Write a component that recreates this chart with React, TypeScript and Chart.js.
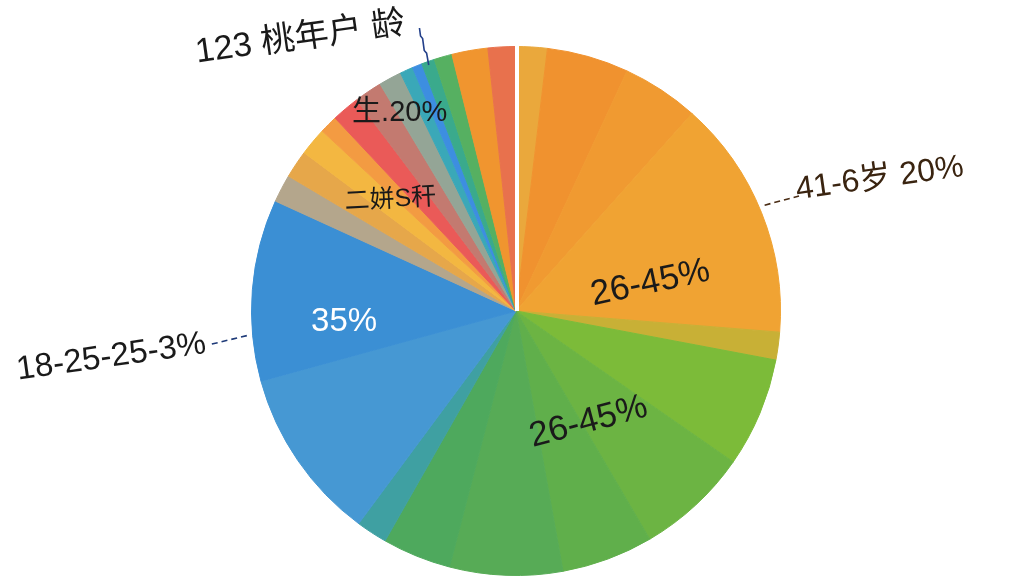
import React, { useEffect, useRef } from "react";
import { Chart, registerables } from "chart.js";

Chart.register(...registerables);

// Slice shares, clockwise from 12 o'clock
const sliceNames = [
  "a1", "a2", "a3", "a4", "a5",
  "b1", "b2", "b3", "b4", "b5", "b6",
  "c1", "c2",
  "d1", "d2", "d3", "d4", "d5", "d6", "d7", "d8", "d9", "d10", "d11",
  "e1", "e2",
];
const sliceShares = [
  1.9, 5.0, 4.7, 14.7, 1.7,
  6.7, 6.9, 5.6, 6.9, 4.2, 1.9,
  10.6, 11.1,
  1.7, 1.7, 1.7, 1.1, 1.7, 1.7, 1.4, 0.8, 0.6, 0.8, 1.1,
  2.2, 1.7,
];
const sliceColors = [
  "#eaa83c", "#f0922f", "#f09a31", "#f0a333", "#c8b036",
  "#7cbb39", "#6cb443", "#60af4b", "#57ab56", "#4ea95d", "#3fa0a2",
  "#4698d3", "#3b8fd4",
  "#b4a68c", "#e6a74a", "#f3b741", "#f39b42", "#ea5a58", "#c37a70", "#94a596", "#3aa8b8", "#3d8ee0", "#3aaa8c", "#56b061",
  "#f0952f", "#e8714d",
];

// Label texts
const labelTexts = [
  "26-45%",
  "26-45%",
  "35%",
  "生.20%",
  "二姘S秆",
  "123 桃年户 龄",
  "41-6岁 20%",
  "18-25-25-3%",
];

// Label placement (fractions of the pie radius from its centre), styles
const labelStyles = [
  { fx: 0.508, fy: -0.105, rot: -12, size: 35, color: "#1a1a1a" },
  { fx: 0.274, fy: 0.42, rot: -15, size: 35, color: "#1a1a1a" },
  { fx: -0.65, fy: 0.04, rot: 0, size: 33, color: "#ffffff" },
  { fx: -0.44, fy: -0.75, rot: 0, size: 29, color: "#1a1a1a" },
  { fx: -0.475, fy: -0.42, rot: -3, size: 25, color: "#1a1a1a" },
  { fx: -0.815, fy: -1.03, rot: -8, size: 34, color: "#1a1a1a" },
  { fx: 1.375, fy: -0.5, rot: -8, size: 32, color: "#3a2410" },
  { fx: -1.53, fy: 0.175, rot: -8, size: 33, color: "#1a1a1a" },
];

const leaderLines = [
  {
    pts: [[-0.33, -0.93], [-0.338, -0.975], [-0.347, -0.985], [-0.353, -1.03], [-0.361, -1.04], [-0.365, -1.07]],
    color: "#23408a",
    dash: [] as number[],
  },
  { pts: [[0.94, -0.4], [1.07, -0.435]], color: "#4a2c14", dash: [6, 4] },
  { pts: [[-1.15, 0.125], [-1.005, 0.09]], color: "#1e3a78", dash: [6, 4] },
];

const labelPlugin = {
  id: "pieLabels",
  afterDatasetsDraw(chart: Chart) {
    const arc: any = chart.getDatasetMeta(0).data[0];
    if (!arc) return;
    const { x: cx, y: cy, outerRadius: r } = arc;
    const ctx = chart.ctx;
    ctx.save();

    // white separator at 12 o'clock
    ctx.strokeStyle = "#ffffff";
    ctx.lineWidth = 4;
    ctx.beginPath();
    ctx.moveTo(cx + 1, cy);
    ctx.lineTo(cx + 1, cy - r - 1);
    ctx.stroke();

    leaderLines.forEach((l) => {
      ctx.strokeStyle = l.color;
      ctx.lineWidth = 1.6;
      ctx.setLineDash(l.dash);
      ctx.beginPath();
      l.pts.forEach(([fx, fy], i) => {
        const px = cx + fx * r;
        const py = cy + fy * r;
        if (i === 0) ctx.moveTo(px, py);
        else ctx.lineTo(px, py);
      });
      ctx.stroke();
    });
    ctx.setLineDash([]);

    labelTexts.forEach((text, i) => {
      const s = labelStyles[i];
      ctx.save();
      ctx.translate(cx + s.fx * r, cy + s.fy * r);
      ctx.rotate((s.rot * Math.PI) / 180);
      ctx.font = `${s.size}px "Liberation Sans", "Noto Sans CJK SC", sans-serif`;
      ctx.fillStyle = s.color;
      ctx.textAlign = "center";
      ctx.textBaseline = "middle";
      ctx.fillText(text, 0, 0);
      ctx.restore();
    });
    ctx.restore();
  },
};

const App: React.FC = () => {
  const chartRef = useRef<HTMLCanvasElement>(null);
  const chartInstance = useRef<Chart | null>(null);

  useEffect(() => {
    if (!chartRef.current) return;
    if (chartInstance.current) chartInstance.current.destroy();

    chartInstance.current = new Chart(chartRef.current, {
      type: "pie",
      data: {
        labels: sliceNames,
        datasets: [
          {
            data: sliceShares,
            backgroundColor: sliceColors,
            borderColor: sliceColors,
            borderWidth: 1,
          },
        ],
      },
      options: {
        responsive: true,
        maintainAspectRatio: false,
        animation: false,
        layout: { padding: { left: 8, right: 0, top: 46, bottom: 0 } },
        plugins: {
          legend: { display: false },
          tooltip: { enabled: false },
        },
      },
      plugins: [labelPlugin],
    });

    return () => {
      if (chartInstance.current) {
        chartInstance.current.destroy();
        chartInstance.current = null;
      }
    };
  }, []);

  return (
    <div
      style={{
        position: "fixed",
        left: 0,
        top: 0,
        width: 1024,
        height: 576,
        background: "#ffffff",
      }}
    >
      <canvas ref={chartRef} />
    </div>
  );
};

export default App;
